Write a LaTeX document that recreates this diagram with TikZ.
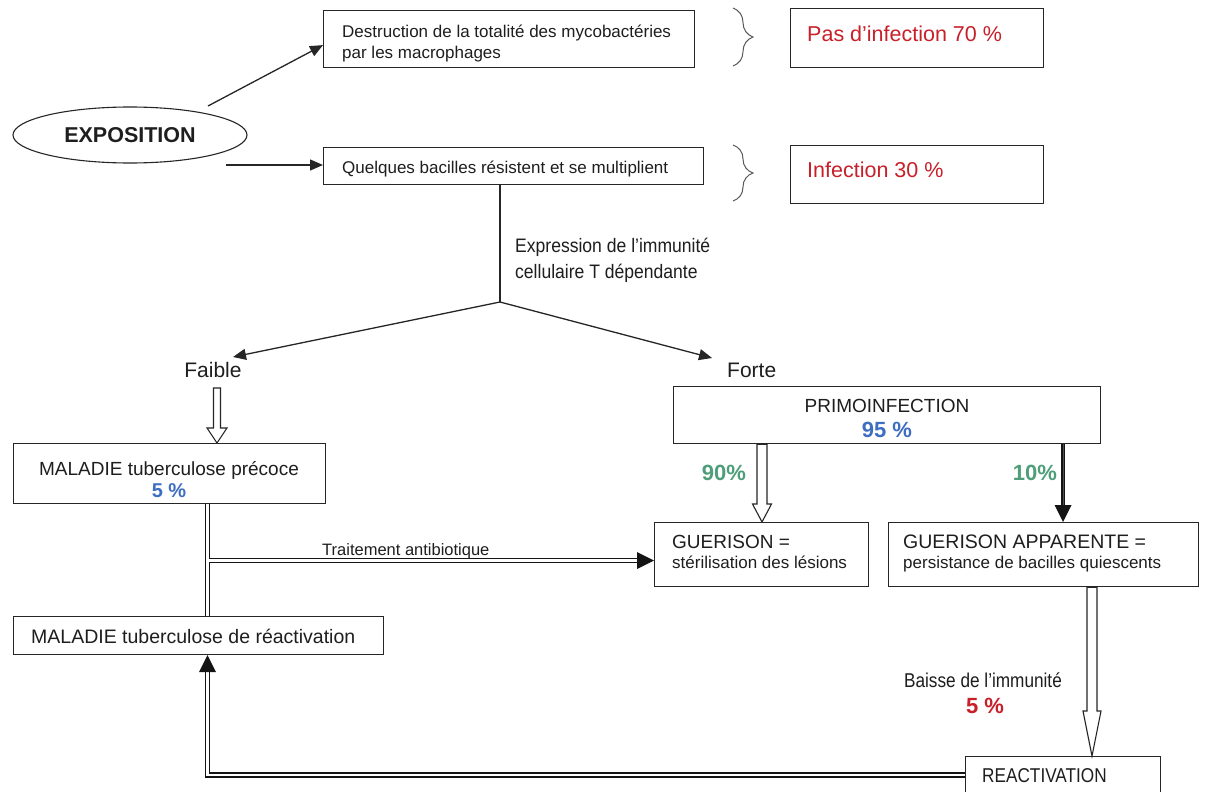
\documentclass[tikz,border=0pt]{standalone}
\usepackage{fontspec}
\setmainfont{Liberation Sans}
\newfontfamily\narrowfont[FakeStretch=0.9]{Liberation Sans}
\newfontfamily\semifont[FakeStretch=0.86]{Liberation Sans}
\usetikzlibrary{shapes.geometric,arrows.meta,decorations.pathreplacing,calc}
\definecolor{linecol}{HTML}{262626}
\definecolor{dblcol}{HTML}{141414}
\definecolor{txtcol}{HTML}{1E1E1E}
\definecolor{redtxt}{HTML}{C8202A}
\definecolor{bluetxt}{HTML}{3E6EC2}
\definecolor{greentxt}{HTML}{4F9E7A}
\newcommand\fsz[1]{\fontsize{#1}{#1}\selectfont}
\newcommand\hollowarrow[5]{%
  \draw[hollow] let \p1=(#1), \p2=(#2) in
    (\x2-#3pt,\y1) -- (\x2-#3pt,\y2+#5pt) -- (\x2-#4pt,\y2+#5pt) -- (\x2,\y2)
    -- (\x2+#4pt,\y2+#5pt) -- (\x2+#3pt,\y2+#5pt) -- (\x2+#3pt,\y1) -- cycle;}
\tikzset{
  box/.style={draw=linecol, line width=1.2pt, fill=white, inner sep=0pt, anchor=north west},
  txt/.style={inner sep=0pt, text=txtcol, anchor=base west},
  ctxt/.style={inner sep=0pt, text=txtcol, anchor=base},
  conn/.style={draw=linecol, line width=1.3pt, -{Triangle[length=13pt,width=11pt]}},
  plain/.style={draw=linecol, line width=1.3pt},
  dbl/.style={draw=dblcol, line width=1.6pt, double=white, double distance=2.6pt},
  hollow/.style={draw=linecol, line width=1.1pt, fill=white, line join=miter},
  bracestyle/.style={draw=black!65, line width=1pt, decorate, decoration={brace, amplitude=20pt}},
}
\begin{document}
\begin{tikzpicture}[x=1pt,y=-1pt]
\useasboundingbox (0,0) rectangle (1205,792);
\fill[white] (0,0) rectangle (1205,792);
\clip (0,0) rectangle (1205,792);

% top boxes
\node[box, minimum width=371pt, minimum height=57pt] (destr) at (323,10) {};
\node[txt, font=\fsz{17}] (destrA) at (342,38) {Destruction de la totalité des mycobactéries};
\node[txt, font=\fsz{17}] (destrB) at (342,59) {par les macrophages};

\node[box, minimum width=253pt, minimum height=59pt] (pas) at (790,8) {};
\node[txt, font=\fsz{21.5}, text=redtxt] (pasT) at (807,42) {Pas d’infection 70 \%};

\node[box, minimum width=380pt, minimum height=37pt] (quel) at (323,147) {};
\node[txt, font=\fsz{17}] (quelT) at (342,173) {Quelques bacilles résistent et se multiplient};

\node[box, minimum width=253pt, minimum height=58pt] (inf) at (790,145) {};
\node[txt, font=\fsz{21.5}, text=redtxt] (infT) at (807,177) {Infection 30 \%};

% braces
\draw[bracestyle] (733,8) -- (733,66);
\draw[bracestyle] (733,145) -- (733,201);

% exposition
\node[ellipse, draw=linecol, line width=1.1pt, minimum width=234pt, minimum height=56pt,
      inner sep=0pt, font=\bfseries\fsz{21.5}, text=txtcol] (expo) at (130,135) {EXPOSITION};
\coordinate (e1) at (208,106);
\coordinate (e2) at (226,165);
\draw[conn] (e1) -- ($(destr.west)+(0,6)$);
\draw[conn] (e2) -- (quel.west |- e2);

% immunity branch
\coordinate (jn) at (500,302);
\draw[plain] (quel.south -| jn) -- (jn);
\node[txt, font=\narrowfont\fsz{19.5}] (exprA) at (515,252) {Expression de l’immunité};
\node[txt, font=\narrowfont\fsz{19.5}] (exprB) at (515,278) {cellulaire T dépendante};

\node[ctxt, font=\fsz{21}] (faible) at (213,377) {Faible};
\node[txt, font=\fsz{21}] (forte) at (727,377) {Forte};
\coordinate (ft) at (233,357);
\coordinate (Ft) at (712,358);
\draw[conn] (jn) -- (ft);
\draw[conn] (jn) -- (Ft);

% early disease
\node[box, minimum width=312pt, minimum height=60pt] (precoce) at (13,443) {};
\node[ctxt, font=\fsz{19}] (precA) at (169,475) {MALADIE tuberculose précoce};
\node[ctxt, font=\bfseries\fsz{20}, text=bluetxt] (precB) at (169,497) {5 \%};
\coordinate (h1) at (217,388);
\hollowarrow{h1}{precoce.north -| h1}{3.5}{10}{15}

% primoinfection
\node[box, minimum width=427pt, minimum height=57pt] (primo) at (673,386) {};
\node[ctxt, font=\fsz{19}] (primoA) at (887,412) {PRIMOINFECTION};
\node[ctxt, font=\bfseries\fsz{22}, text=bluetxt] (primoB) at (887,437) {95 \%};

\node[box, minimum width=214pt, minimum height=64pt] (guer) at (654,522) {};
\node[txt, font=\fsz{19}] (guerA) at (672,548) {GUERISON =};
\node[txt, font=\fsz{17}] (guerB) at (672,568) {stérilisation des lésions};

\node[box, minimum width=310pt, minimum height=64pt] (ga) at (888,522) {};
\node[txt, font=\fsz{19.5}] (gaA) at (903,548) {GUERISON APPARENTE =};
\node[txt, font=\fsz{17}] (gaB) at (903,568) {persistance de bacilles quiescents};

\node[ctxt, font=\bfseries\fsz{22}, text=greentxt] (p90) at (724,480) {90\%};
\node[ctxt, font=\bfseries\fsz{22}, text=greentxt] (p10) at (1035,480) {10\%};

\coordinate (h2) at (762,0);
\hollowarrow{primo.south -| h2}{guer.north -| h2}{5}{9.5}{18}

\coordinate (b10) at (1063,0);
\draw[draw=dblcol, line width=1.5pt, double=dblcol!75, double distance=1pt, shorten >=16pt]
  (primo.south -| b10) -- (ga.north -| b10);
\fill[dblcol] (ga.north -| b10) -- ++(-8.5,-17) -- ++(17,0) -- cycle;

% reactivation disease
\node[box, minimum width=370pt, minimum height=38pt] (reactmal) at (13,616) {};
\node[txt, font=\fsz{19.5}] (reactmalT) at (31,643) {MALADIE tuberculose de réactivation};

% treatment
\coordinate (vx) at (207.5,560.5);
\draw[dbl] (precoce.south -| vx) -- (reactmal.north -| vx);
\draw[dbl, shorten >=16pt] ($(vx)+(1.3,0)$) -- (guer.west |- vx);
\fill[dblcol] (guer.west |- vx) -- ++(-17,-8.5) -- ++(0,17) -- cycle;
\node[txt, font=\fsz{16.5}] (trait) at (322,555) {Traitement antibiotique};

% reactivation
\node[box, minimum width=195pt, minimum height=50pt] (react) at (965,756) {};
\node[txt, font=\semifont\fsz{20}] (reactT) at (982,782) {REACTIVATION};
\coordinate (h3) at (1092,0);
\hollowarrow{ga.south -| h3}{react.north -| h3}{5}{9}{45}
\node[ctxt, font=\semifont\fsz{20}] (baisse) at (983,687) {Baisse de l’immunité};
\node[ctxt, font=\bfseries\fsz{22}, text=redtxt] (p5) at (985,713) {5 \%};

\coordinate (by) at (0,775);
\draw[dbl, shorten >=16pt] (react.west |- by) -- (vx |- by) -- (reactmal.south -| vx);
\fill[dblcol] (reactmal.south -| vx) -- ++(-8.5,17) -- ++(17,0) -- cycle;
\end{tikzpicture}
\end{document}
